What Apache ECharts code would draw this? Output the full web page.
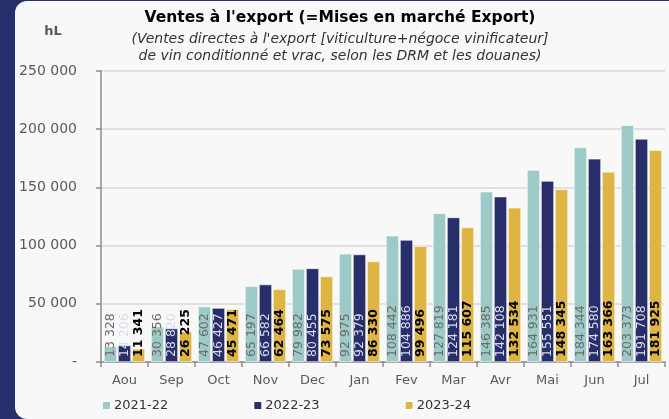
<!DOCTYPE html>
<html>
<head>
<meta charset="utf-8">
<script src="https://cdn.jsdelivr.net/npm/echarts@6/dist/echarts.min.js"></script>
<style>
html,body{margin:0;padding:0;width:669px;height:419px;overflow:hidden;background:#262f6b;}
#card{position:absolute;left:15px;top:1px;width:654px;height:418px;background:#f8f8f8;border-top-left-radius:12px;border-bottom-left-radius:12px;}
#chart{position:absolute;left:0;top:0;width:669px;height:419px;}
</style>
</head>
<body>
<div id="card"></div>
<div id="chart"></div>
<script>
const categories = ['Aou','Sep','Oct','Nov','Dec','Jan','Fev','Mar','Avr','Mai','Jun','Jul'];
const seriesNames = ['2021-22','2022-23','2023-24'];
const values2021 = [13328,30356,47602,65197,79982,92975,108442,127819,146385,164931,184344,203373];
const values2022 = [14206,28820,46427,66582,80455,92379,104886,124181,142108,155551,174580,191708];
const values2023 = [11341,26225,45471,62464,73575,86330,99496,115607,132534,148345,163366,181925];
const yTicks = [0,50000,100000,150000,200000,250000];

const FONT = 'DejaVu Sans';
function fmt(v){ return String(v).replace(/\B(?=(\d{3})+(?!\d))/g,' '); }

const colors = ['#9dc9c7','#272e6a','#deb443'];
const labelStyles = [
  {color:'#6b6b6b', weight:'normal'},
  {color:'#d9dcea', weight:'normal'},
  {color:'#000000', weight:'bold'}
];
const dataSets = [values2021, values2022, values2023];

const chart = echarts.init(document.getElementById('chart'), null, {renderer:'canvas'});
chart.setOption({
  backgroundColor: 'transparent',
  animation: false,
  textStyle: {fontFamily: FONT},
  grid: {left:101, right:4, top:71, bottom:57},
  graphic: [
    {type:'text', x:340, y:18, style:{text:"Ventes à l'export (=Mises en marché Export)", font:'bold 15.5px "DejaVu Sans"', fill:'#000', textAlign:'center', textVerticalAlign:'middle'}},
    {type:'text', x:340, y:39, style:{text:"(Ventes directes à l'export [viticulture+négoce vinificateur]", font:'italic 14px "DejaVu Sans"', fill:'#333', textAlign:'center', textVerticalAlign:'middle'}},
    {type:'text', x:340, y:56, style:{text:"de vin conditionné et vrac, selon les DRM et les douanes)", font:'italic 14px "DejaVu Sans"', fill:'#333', textAlign:'center', textVerticalAlign:'middle'}},
    {type:'text', x:53, y:32, style:{text:'hL', font:'bold 13px "DejaVu Sans"', fill:'#595959', textAlign:'center', textVerticalAlign:'middle'}}
  ],
  legend: {
    data: seriesNames,
    left: 101, top: 399, padding: 0,
    itemWidth: 9, itemHeight: 9, itemGap: 84,
    icon: 'rect',
    textStyle: {fontFamily: FONT, fontSize: 13, color:'#333', padding:[0,0,0,-2]}
  },
  xAxis: {
    type: 'category',
    data: categories,
    axisLine: {lineStyle:{color:'#8c8c8c', width:1.5}},
    axisTick: {show:true, length:5, lineStyle:{color:'#8c8c8c', width:1.5}},
    axisLabel: {fontFamily: FONT, fontSize: 13, color:'#595959', margin:12}
  },
  yAxis: {
    type: 'value',
    min: yTicks[0], max: yTicks[yTicks.length-1], interval: yTicks[1]-yTicks[0],
    axisLine: {show:true, lineStyle:{color:'#8c8c8c', width:1.5}},
    axisTick: {show:true, length:5, lineStyle:{color:'#8c8c8c', width:1.5}},
    splitLine: {lineStyle:{color:'#d9d9d9', width:1.5}},
    axisLabel: {fontFamily: FONT, fontSize: 14, color:'#595959', margin:24,
      formatter: v => v === 0 ? '-' : fmt(v)}
  },
  series: dataSets.map((d,i) => ({
    name: seriesNames[i],
    type: 'bar',
    data: d,
    barWidth: 13,
    barGap: '8%',
    itemStyle: {color: colors[i], borderColor:'#ffffff', borderWidth:0.6},
    label: {
      show: true,
      position: 'insideBottom',
      distance: 5,
      rotate: 90,
      align: 'left',
      verticalAlign: 'middle',
      fontFamily: FONT,
      fontSize: 12.5,
      color: labelStyles[i].color,
      fontWeight: labelStyles[i].weight,
      formatter: p => fmt(p.value)
    }
  }))
});
</script>
</body>
</html>
